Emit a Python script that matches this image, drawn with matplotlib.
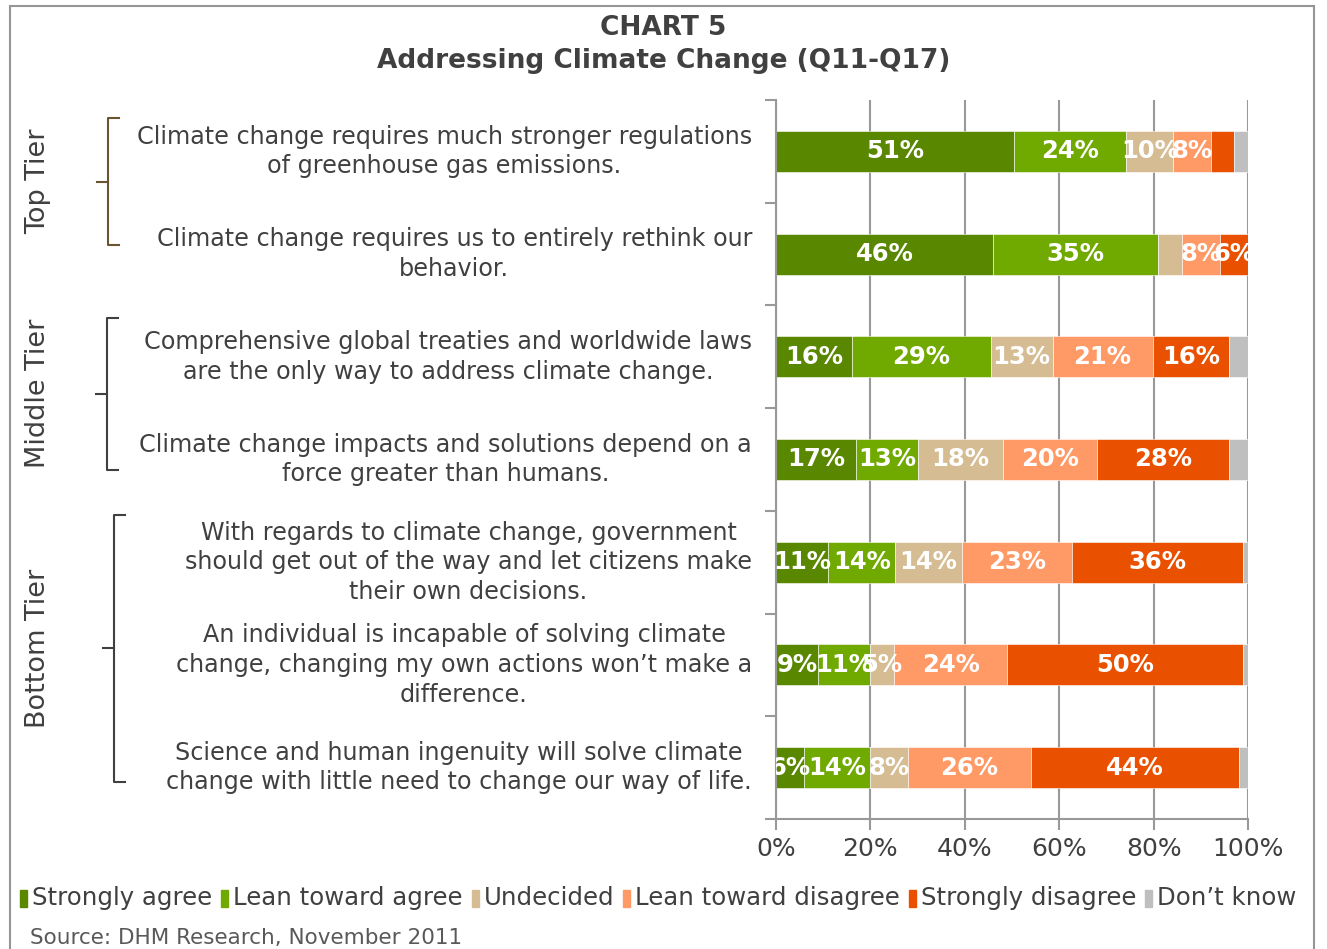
import matplotlib.pyplot as plt
import matplotlib.transforms as mtransforms
from matplotlib.patches import Rectangle
from matplotlib.lines import Line2D
import numpy as np

statements = [
    'Climate change requires much stronger regulations\nof greenhouse gas emissions.',
    'Climate change requires us to entirely rethink our\nbehavior.',
    'Comprehensive global treaties and worldwide laws\nare the only way to address climate change.',
    'Climate change impacts and solutions depend on a\nforce greater than humans.',
    'With regards to climate change, government\nshould get out of the way and let citizens make\ntheir own decisions.',
    'An individual is incapable of solving climate\nchange, changing my own actions won\u2019t make a\ndifference.',
    'Science and human ingenuity will solve climate\nchange with little need to change our way of life.',
]
series_names = ['Strongly agree', 'Lean toward agree', 'Undecided',
                'Lean toward disagree', 'Strongly disagree', 'Don\u2019t know']

strongly_agree = [51, 46, 16, 17, 11, 9, 6]
lean_agree = [24, 35, 29, 13, 14, 11, 14]
undecided = [10, 5, 13, 18, 14, 5, 8]
lean_disagree = [8, 8, 21, 20, 23, 24, 26]
strongly_disagree = [5, 6, 16, 28, 36, 50, 44]
dont_know = [3, 0, 4, 4, 1, 1, 2]

# (row, series) pairs whose value labels were left off the bars
hidden_labels = {(0, 4), (1, 2)}

tiers = ['Top Tier', 'Middle Tier', 'Bottom Tier']
tier_spans = [(-0.32, 0.91), (1.62, 3.10), (3.54, 6.14)]
tier_colors = ['#6b5531', '#404040', '#404040']
tier_xpos = [108, 107, 114]

colors = ['#598700', '#70aa00', '#d5bc93', '#ff9966', '#e95100', '#bfbfbf']
text_col = '#404040'
grid_col = '#999999'

W, H = 1327, 949
fig = plt.figure(figsize=(W / 100, H / 100), dpi=100)
ax = fig.add_axes([776 / W, 1 - 819 / H, 472 / W, 719 / H])

data = np.array([strongly_agree, lean_agree, undecided,
                 lean_disagree, strongly_disagree, dont_know], dtype=float)
shares = data / data.sum(axis=0) * 100  # 100% stacked
y = np.arange(len(statements))

left = np.zeros(len(statements))
for s, (vals, share) in enumerate(zip(data, shares)):
    ax.barh(y, share, left=left, height=0.4, color=colors[s],
            edgecolor='white', linewidth=0.4, zorder=2)
    for r in range(len(statements)):
        if vals[r] == 0 or s == 5 or (r, s) in hidden_labels:
            continue
        ax.text(left[r] + share[r] / 2, y[r], f'{int(vals[r])}%',
                ha='center', va='center', color='white', fontsize=17.5,
                fontweight='bold', zorder=3, clip_on=True)
    left += share

ax.set_xlim(0, 100)
ax.set_ylim(6.5, -0.5)
ax.set_xticks(range(0, 101, 20))
ax.set_xticklabels([f'{v}%' for v in range(0, 101, 20)])
ax.set_yticks(np.arange(-0.5, 7, 1.0))
ax.set_yticklabels([])
ax.tick_params(axis='x', colors=grid_col, labelcolor=text_col, labelsize=18,
               length=8, width=1.5, pad=5)
ax.tick_params(axis='y', colors=grid_col, length=8, width=1.5)
ax.grid(axis='x', color=grid_col, linewidth=1.5, zorder=0)
ax.set_axisbelow(True)
for side in ['top', 'right']:
    ax.spines[side].set_visible(False)
for side in ['left', 'bottom']:
    ax.spines[side].set_color(grid_col)
    ax.spines[side].set_linewidth(1.5)

# statement labels to the left of the bars
lab_tr = mtransforms.blended_transform_factory(ax.transAxes, ax.transData)
for r, txt in enumerate(statements):
    ax.text(-24 / 472, r, txt, transform=lab_tr, ha='right', va='center',
            multialignment='center', fontsize=17.2, color=text_col,
            linespacing=1.3)

# tier brackets and names
br_tr = mtransforms.blended_transform_factory(fig.transFigure, ax.transData)
for name, (y0, y1), c, xp in zip(tiers, tier_spans, tier_colors, tier_xpos):
    xv, xs, xn = xp / W, (xp + 11) / W, (xp - 11) / W
    ym = (y0 + y1) / 2
    fig.add_artist(Line2D([xs, xv, xv, xs], [y0, y0, y1, y1], transform=br_tr,
                          color=c, linewidth=1.5, clip_on=False))
    fig.add_artist(Line2D([xv, xn], [ym, ym], transform=br_tr,
                          color=c, linewidth=1.5, clip_on=False))
    fig.text(38 / W, ym, name, transform=br_tr, rotation=90, ha='center',
             va='center', fontsize=19.5, color=text_col)

fig.text(0.5, 1 - 28 / H, 'CHART 5', ha='center', va='center',
         fontsize=19, fontweight='bold', color=text_col)
fig.text(0.5, 1 - 61 / H, 'Addressing Climate Change (Q11-Q17)', ha='center',
         va='center', fontsize=19, fontweight='bold', color=text_col)

# legend row along the bottom
fig.canvas.draw()
renderer = fig.canvas.get_renderer()
x = 20
for name, c in zip(series_names, colors):
    fig.add_artist(Rectangle((x / W, 1 - 907 / H), 7 / W, 17 / H,
                             transform=fig.transFigure, color=c))
    t = fig.text((x + 12) / W, 1 - 898 / H, name, ha='left', va='center',
                 fontsize=17.6, color=text_col)
    w = t.get_window_extent(renderer).width
    x += 12 + w + 9

fig.text(30 / W, 1 - 938 / H, 'Source: DHM Research, November 2011',
         ha='left', va='center', fontsize=15.5, color='#595959')

# outer frame
fig.add_artist(Rectangle((10 / W, -0.1), 1304 / W, 1.1 - 6 / H,
                         transform=fig.transFigure, fill=False,
                         edgecolor='#969696', linewidth=1.5, clip_on=False))

fig.savefig('out.png', dpi=100)
